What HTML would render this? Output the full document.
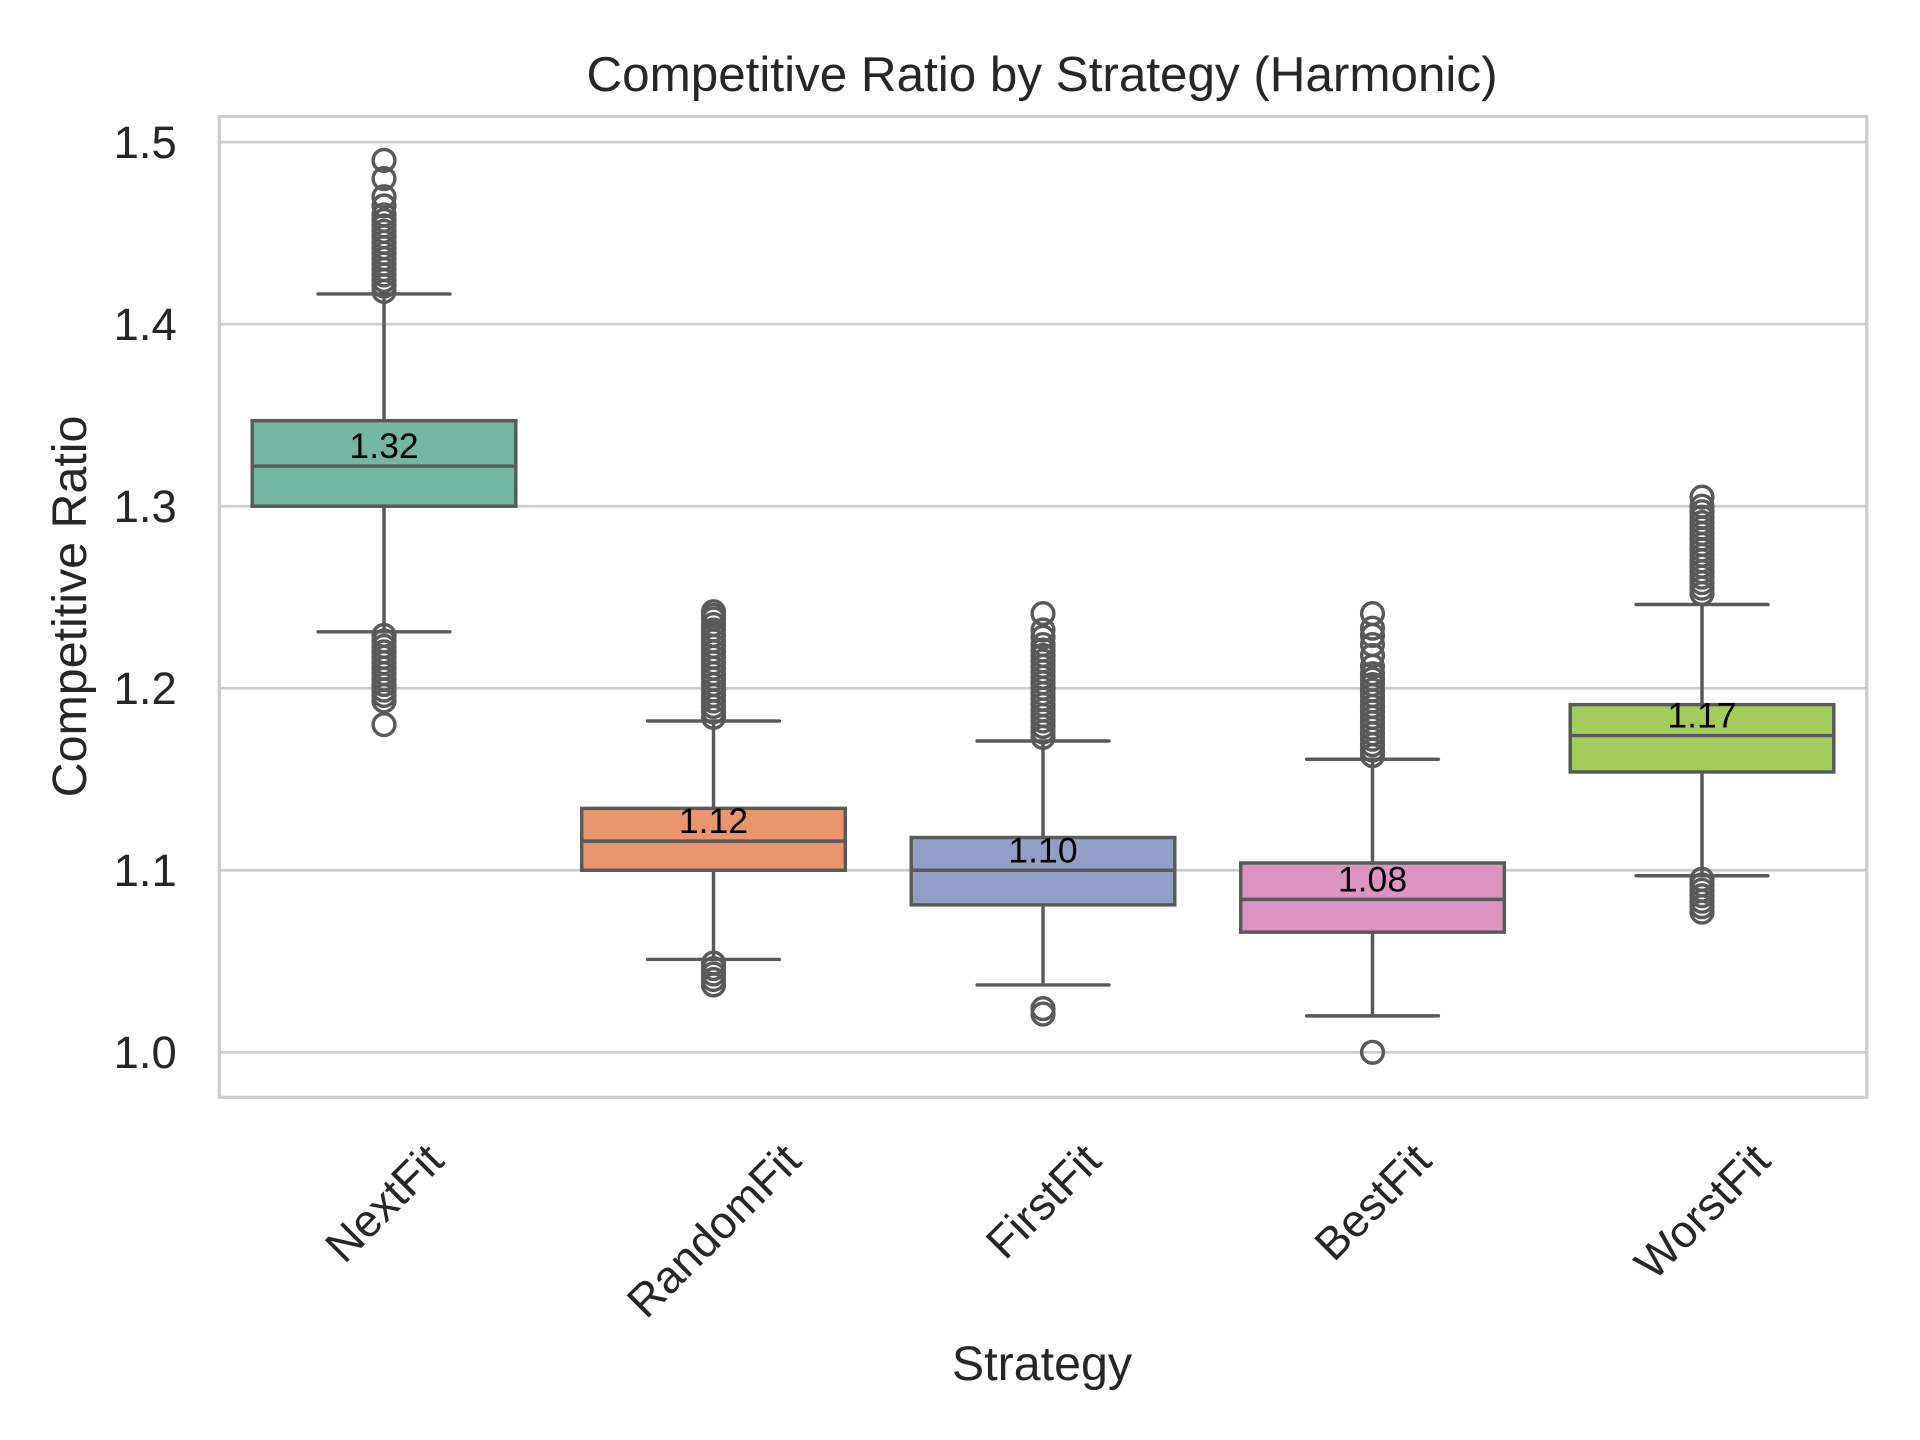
<!DOCTYPE html>
<html><head><meta charset="utf-8"><style>
html,body{margin:0;padding:0;background:#fff}
svg{display:block}
text{font-family:"Liberation Sans",Arial,sans-serif;fill:#262626}
</style></head><body>
<svg id="chart" width="1920" height="1440" viewBox="0 0 1920 1440" xmlns="http://www.w3.org/2000/svg">
<rect x="0" y="0" width="1920" height="1440" fill="#fff"/>
<g transform="scale(0.9877)">
<g id="grid"></g>
<g id="boxes"></g>
<rect x="222" y="118" width="1668" height="993" fill="none" stroke="#cccccc" stroke-width="3.2"/>
<g id="yticks"></g>
<g id="xticks"></g>
<text x="1055" y="92" font-size="50" text-anchor="middle">Competitive Ratio by Strategy (Harmonic)</text>
<text x="1055" y="1397" font-size="49" text-anchor="middle">Strategy</text>
<text x="0" y="0" font-size="49" text-anchor="middle" transform="translate(87,614) rotate(-90)">Competitive Ratio</text>
</g>
</svg>
<script>
const categories = ["NextFit","RandomFit","FirstFit","BestFit","WorstFit"];
const q1 = [1.300,1.100,1.081,1.066,1.154];
const medians = [1.322,1.116,1.100,1.084,1.174];
const q3 = [1.347,1.134,1.118,1.104,1.191];
const whiskerLow = [1.231,1.051,1.037,1.020,1.097];
const whiskerHigh = [1.4166,1.182,1.171,1.161,1.246];
const outliersNextFit = [1.418,1.421,1.424,1.427,1.430,1.433,1.436,1.439,1.442,1.445,1.448,1.451,1.454,1.457,1.460,1.465,1.470,1.480,1.490,1.229,1.226,1.223,1.220,1.217,1.214,1.211,1.208,1.205,1.202,1.199,1.196,1.193,1.180];
const outliersRandomFit = [1.184,1.187,1.190,1.193,1.196,1.199,1.202,1.205,1.208,1.211,1.214,1.217,1.220,1.223,1.226,1.229,1.232,1.235,1.238,1.240,1.242,1.049,1.046,1.043,1.040,1.037];
const outliersFirstFit = [1.173,1.176,1.179,1.182,1.185,1.188,1.191,1.194,1.197,1.200,1.203,1.206,1.209,1.212,1.215,1.218,1.221,1.224,1.228,1.232,1.241,1.024,1.021];
const outliersBestFit = [1.163,1.166,1.169,1.172,1.175,1.178,1.181,1.184,1.187,1.190,1.193,1.196,1.199,1.202,1.205,1.208,1.212,1.218,1.224,1.229,1.233,1.241,1.000];
const outliersWorstFit = [1.252,1.255,1.258,1.261,1.264,1.267,1.270,1.273,1.276,1.279,1.282,1.285,1.288,1.291,1.294,1.297,1.300,1.305,1.095,1.092,1.089,1.086,1.083,1.080,1.077];
const outliers = [outliersNextFit,outliersRandomFit,outliersFirstFit,outliersBestFit,outliersWorstFit];
const yTicks = ["1.0","1.1","1.2","1.3","1.4","1.5"];
const colors = ["#73b6a1","#e9966f","#919fc7","#dc95c2","#a2cd5d"];

const NS="http://www.w3.org/2000/svg";
const L=222,R=1890,T=118,B=1111;
function y(v){return 1065.4-(v-1.0)/0.5*(1065.4-143.9);}
function xc(i){return L+(R-L)/categories.length*(i+0.5);}
const bw=(R-L)/categories.length*0.8;
function mk(tag,attrs,parent){const e=document.createElementNS(NS,tag);for(const k in attrs)e.setAttribute(k,attrs[k]);parent.appendChild(e);return e;}
const grid=document.getElementById('grid'),yt=document.getElementById('yticks'),xt=document.getElementById('xticks'),bx=document.getElementById('boxes');
yTicks.forEach(t=>{
  const v=parseFloat(t);
  const ln=mk('line',{x1:L,x2:R,y1:y(v),y2:y(v),stroke:'#cccccc','stroke-width':2.8},grid);
  
  
  const tx=mk('text',{x:179,y:y(v)+16,'font-size':46,'text-anchor':'end'},yt);
  tx.textContent=t;
  
  
});
const G='#595959';
categories.forEach((c,i)=>{
  const cx=xc(i);
  const g=mk('g',{},bx);
  
  
  mk('line',{x1:cx,x2:cx,y1:y(q3[i]),y2:y(whiskerHigh[i]),stroke:G,'stroke-width':3.5},g);
  mk('line',{x1:cx,x2:cx,y1:y(q1[i]),y2:y(whiskerLow[i]),stroke:G,'stroke-width':3.5},g);
  mk('line',{x1:cx-bw/4,x2:cx+bw/4,y1:y(whiskerHigh[i]),y2:y(whiskerHigh[i]),stroke:G,'stroke-width':3.5,'stroke-linecap':'round'},g);
  mk('line',{x1:cx-bw/4,x2:cx+bw/4,y1:y(whiskerLow[i]),y2:y(whiskerLow[i]),stroke:G,'stroke-width':3.5,'stroke-linecap':'round'},g);
  mk('rect',{x:cx-bw/2,y:y(q3[i]),width:bw,height:y(q1[i])-y(q3[i]),fill:colors[i],stroke:G,'stroke-width':3.5},g);
  mk('line',{x1:cx-bw/2,x2:cx+bw/2,y1:y(medians[i]),y2:y(medians[i]),stroke:G,'stroke-width':3.5},g);
  outliers[i].forEach(v=>{mk('circle',{cx:cx,cy:y(v),r:11,fill:'none',stroke:G,'stroke-width':3.5},g);});
  const lab=mk('text',{x:cx,y:y(medians[i])-8,'font-size':36,'text-anchor':'middle',style:'fill:#000'},bx);
  lab.textContent=medians[i].toFixed(2);
  
  
  const tx=mk('text',{x:0,y:16,'font-size':46,'text-anchor':'middle'},xt);
  tx.textContent=c;
  
  
  const w=tx.getComputedTextLength(),h=46;
  const cy=1150+(w+h)*0.7071/2;
  tx.setAttribute('transform','translate('+cx+','+cy+') rotate(-45)');
});
</script>
</body></html>
